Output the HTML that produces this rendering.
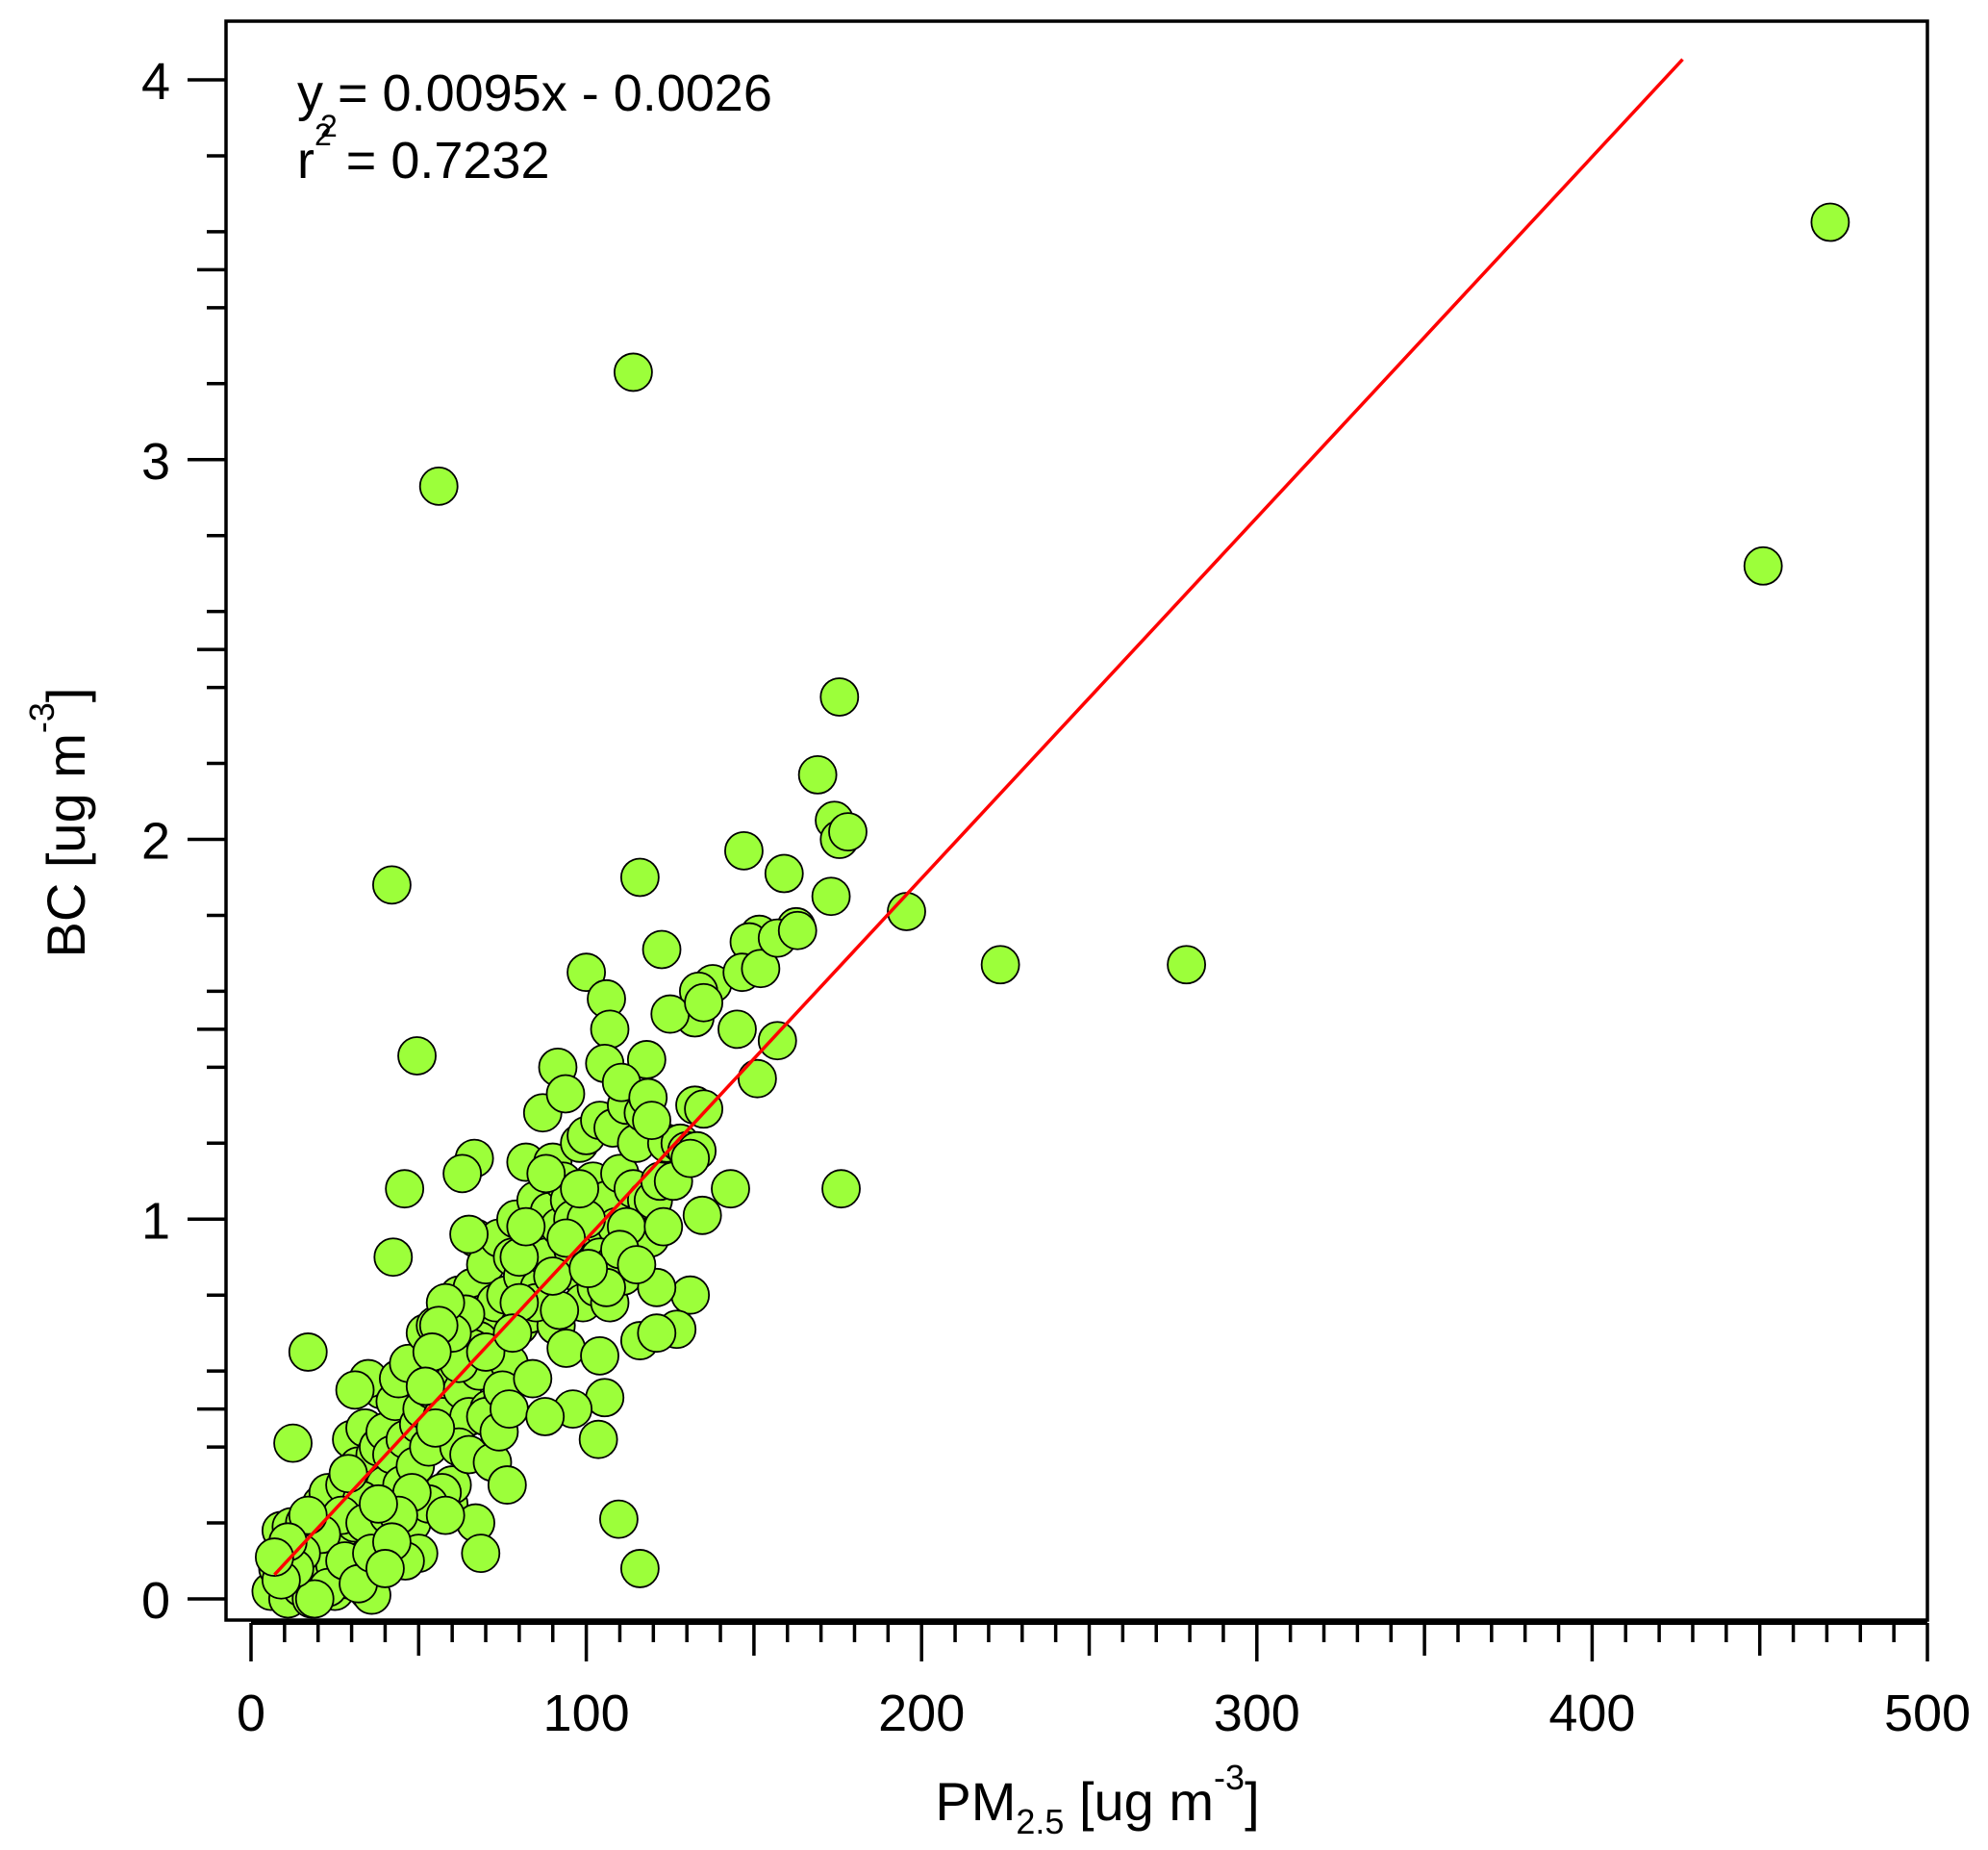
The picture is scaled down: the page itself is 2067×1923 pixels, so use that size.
<!DOCTYPE html>
<html><head><meta charset="utf-8"><style>
html,body{margin:0;padding:0;background:#fff;}
svg{display:block;font-family:"Liberation Sans",Arial,sans-serif;}
</style></head><body>
<svg id="chart" width="2067" height="1923" viewBox="0 0 2067 1923" xmlns="http://www.w3.org/2000/svg">
<rect x="235" y="22" width="1769" height="1662" fill="#fff" stroke="#000" stroke-width="3.5"/>
<g id="pts"></g>
<g id="fit"></g>
<g id="xaxis"></g>
<g id="yaxis"></g>
<text x="309" y="115" font-size="54">y = 0.0095x - 0.0026</text>
<text x="333" y="142" font-size="32">2</text>
<text x="309" y="185" font-size="54">r<tspan dy="-34" font-size="32">2</tspan><tspan dy="34"> = 0.7232</tspan></text>
<text x="1141" y="1892" font-size="56" text-anchor="middle">PM<tspan font-size="36" dy="14">2.5</tspan><tspan dy="-14"> [ug m</tspan><tspan font-size="36" dy="-32">-3</tspan><tspan dy="32">]</tspan></text>
<text transform="translate(88,855) rotate(-90)" font-size="56" text-anchor="middle">BC [ug m<tspan font-size="36" dy="-32">-3</tspan><tspan dy="32">]</tspan></text>
</svg>
<script>
const xTicks=[0,100,200,300,400,500];
const yTicks=[0,1,2,3,4];
const slope=0.0095, intercept=-0.0026, fitXMin=7, fitXMax=427;
const pmValues=[6,8,9,10,11,12,13,14,15,16,17,18,19,20,21,22,23,24,25,26,27,28,29,30,31,32,33,34,35,36,37,38,39,40,35,36,33,31,29,27,25,23,21,19,17,15,13,11,9,7,28,32,34,36,38,40,41,42,43,44,45,46,47,48,49,50,51,52,53,54,55,56,57,58,59,60,61,62,63,64,65,66,67,68,69,70,71,72,73,74,75,76,77,78,79,80,81,82,83,84,85,86,87,88,89,90,91,92,93,94,95,96,97,98,99,100,101,102,103,104,105,106,107,108,109,110,111,112,113,114,115,116,117,118,119,120,122,124,126,128,130,60,62,65,67,57,55,53,50,48,46,44,42,40,38,58,70,72,74,75,77,68,66,64,62,60,58,56,54,52,65,70,80,85,88,92,96,100,104,108,112,84,80,78,82,90,94,98,106,110,
471,451,114,56,175.5,169,174,175.5,178,147,159,116,42,173,195.5,223.5,279,176,162.6,151.6,148.6,122.5,100,106,137.7,146.5,152,157,163,49.5,157,151,145,133.5,132.4,125,135,118,107,105.5,91.5,93.8,110.5,118.4,119.5,132.4,135,133,131,143,134.6,109.7,116,103.6,105.5,104,96,87.7,68.5,76.4,45.8,42.4,17,12.5,66.6,63,131,127,121,121,123,100.6,115];
const bcValues=[0.02,0.08,0.18,0.12,0.0,0.19,0.05,0.15,0.03,0.2,0.1,0.0,0.14,0.06,0.25,0.08,0.28,0.15,0.02,0.18,0.12,0.3,0.05,0.42,0.2,0.35,0.1,0.45,0.02,0.28,0.38,0.15,0.55,0.3,0.58,0.01,0.26,0.55,0.33,0.22,0.09,0.03,0.17,0.0,0.22,0.12,0.08,0.15,0.05,0.11,0.1,0.04,0.2,0.12,0.4,0.44,0.22,0.38,0.52,0.58,0.3,0.42,0.62,0.2,0.35,0.46,0.5,0.7,0.4,0.55,0.72,0.6,0.48,0.67,0.25,0.62,0.58,0.8,0.55,0.7,0.48,0.82,0.95,0.6,0.75,0.88,0.5,0.66,0.78,0.95,0.52,0.8,0.62,0.9,1.0,0.72,0.85,1.15,0.75,0.95,1.05,0.82,1.28,0.9,1.02,1.15,0.72,0.98,1.1,0.66,1.05,1.0,0.86,1.2,0.78,1.22,0.95,1.1,0.82,1.26,0.9,1.05,0.78,1.24,0.98,1.12,0.85,1.3,1.0,1.08,1.2,0.68,1.28,1.05,0.95,1.05,1.1,1.2,1.1,1.2,1.18,0.3,0.4,0.38,0.2,0.28,0.45,0.25,0.12,0.28,0.1,0.22,0.15,0.08,0.25,0.22,0.48,0.36,0.44,0.55,0.5,0.68,0.66,0.75,0.62,0.7,0.78,0.72,0.65,0.56,0.96,0.65,0.9,0.78,1.12,0.76,0.92,1.0,0.9,0.88,0.98,0.58,0.78,0.7,0.98,0.85,0.95,1.08,0.82,0.92,
3.625,2.72,3.23,2.93,2.375,2.17,2.05,2.0,2.02,1.97,1.91,1.90,1.88,1.85,1.81,1.67,1.67,1.08,1.77,1.75,1.73,1.71,1.65,1.58,1.62,1.65,1.66,1.74,1.76,1.43,1.47,1.37,1.5,1.6,1.53,1.54,1.57,1.42,1.5,1.41,1.4,1.33,1.36,1.32,1.26,1.3,1.29,1.18,1.16,1.08,1.01,0.21,0.08,0.42,0.53,0.64,0.5,0.48,0.12,0.3,1.08,0.9,0.65,0.41,1.16,1.12,0.8,0.71,0.7,0.82,0.98,0.87,0.88];
const NS="http://www.w3.org/2000/svg";
const X=v=>261+v*(2004-261)/500;
const Y=v=>1662-v*(1662-83)/4;
function mk(tag,attrs,parent){const e=document.createElementNS(NS,tag);for(const k in attrs)e.setAttribute(k,attrs[k]);parent.appendChild(e);return e;}
const pts=document.getElementById('pts');
for(let i=0;i<pmValues.length;i++){
  const c=mk('circle',{cx:X(pmValues[i]),cy:Y(bcValues[i]),r:19.5,fill:'#9cff3a',stroke:'#000','stroke-width':1.8},pts);
  
  
}
const fit=document.getElementById('fit');
const ln=mk('line',{x1:X(fitXMin),y1:Y(slope*fitXMin+intercept),x2:X(fitXMax),y2:Y(slope*fitXMax+intercept),stroke:'#ff0000','stroke-width':3.5},fit);


const xa=document.getElementById('xaxis');
mk('line',{x1:X(0),y1:1687,x2:X(500),y2:1687,stroke:'#000','stroke-width':4},xa);
for(let v=0;v<=500;v+=10){
  const len=v%100===0?40:(v%50===0?34:20);
  mk('line',{x1:X(v),y1:1687,x2:X(v),y2:1687+len,stroke:'#000','stroke-width':3.5},xa);
}
xTicks.forEach(v=>{
  const t=mk('text',{x:X(v),y:1799,'font-size':54,'text-anchor':'middle'},xa);
  t.textContent=v;
  
  
});
const ya=document.getElementById('yaxis');
for(let k=0;k<=20;k++){
  const v=k*0.2;
  const len=k%5===0?40:20;
  mk('line',{x1:235-len,y1:Y(v),x2:235,y2:Y(v),stroke:'#000','stroke-width':3.5},ya);
}
for(let k=1;k<8;k+=2){const v=k*0.5;mk('line',{x1:205,y1:Y(v),x2:235,y2:Y(v),stroke:'#000','stroke-width':3.5},ya);}
yTicks.forEach(v=>{
  const t=mk('text',{x:162,y:Y(v)+20,'font-size':54,'text-anchor':'middle'},ya);
  t.textContent=v;
  
  
});
</script>
</body></html>
